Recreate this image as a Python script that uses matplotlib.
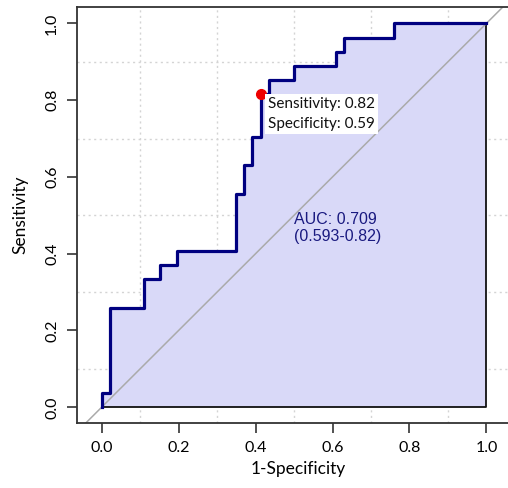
import numpy as np
import matplotlib.pyplot as plt

# ROC 曲线的拐点 (1-特异度, 灵敏度)
fpr = [0.0, 0.0, 0.022, 0.109, 0.152, 0.196, 0.348, 0.370, 0.391, 0.413,
       0.435, 0.500, 0.609, 0.630, 0.761, 1.0]
tpr = [0.0, 0.037, 0.259, 0.333, 0.370, 0.407, 0.556, 0.630, 0.704, 0.815,
       0.852, 0.889, 0.926, 0.963, 1.0, 1.0]
best_fpr, best_tpr = 0.413, 0.815
best_label = 'Sensitivity: 0.82\nSpecificity: 0.59'
auc_label = 'AUC: 0.709\n(0.593-0.82)'
ticks = [0.0, 0.2, 0.4, 0.6, 0.8, 1.0]
tick_labels = ['0.0', '0.2', '0.4', '0.6', '0.8', '1.0']

fig = plt.figure(figsize=(5.08, 4.88), dpi=100)
ax = fig.add_axes([0.152, 0.1332, 0.87, 0.852])
ax.set_xlim(-0.0634, 1.085)
ax.set_ylim(-0.041, 1.042)

# 网格
grid = np.arange(0, 1.01, 0.1)
ax.set_xticks(grid, minor=True)
ax.set_yticks(grid, minor=True)
ax.tick_params(which='minor', length=0)
ax.grid(which='minor', color='#d4d4d4', linestyle=(0, (1.5, 2.5)), linewidth=1.0)
ax.set_axisbelow(True)

# 填充区域 + 曲线
ax.fill_between(fpr, tpr, 0, step='post', facecolor='#d9d9f8', zorder=1)
ax.plot([0, 1, 1], [0, 0, 1], color='#111111', lw=1.3, zorder=2)
ax.plot([-0.2, 1.2], [-0.2, 1.2], color='#aaaaaa', lw=1.1, zorder=2)
ax.plot(fpr, tpr, drawstyle='steps-post', color='#000080', lw=2.3, zorder=3)
ax.plot(best_fpr, best_tpr, 'o', color='#ee0000', markersize=7, zorder=4)

ax.text(0.432, 0.808, best_label, family='Lato', fontsize=11, va='top', ha='left',
        linespacing=1.55, color='#111111', zorder=5,
        bbox=dict(boxstyle='square,pad=0.2', facecolor='white', edgecolor='none'))
ax.text(0.5, 0.509, auc_label, family='Liberation Sans', fontsize=11.5, va='top',
        ha='left', linespacing=1.15, color='#1a1a80', zorder=5)

ax.set_xticks(ticks)
ax.set_xticklabels(tick_labels, family='Lato', fontsize=11.5)
ax.set_yticks(ticks)
ax.set_yticklabels(tick_labels, family='Lato', fontsize=11.5, rotation=90, va='center')
ax.tick_params(which='major', length=7, width=1.2, color='#333333', pad=6)
for s in ax.spines.values():
    s.set_color('#333333')
    s.set_linewidth(1.3)

ax.set_xlabel('1-Specificity', family='Lato', fontsize=12.5, labelpad=4)
ax.set_ylabel('Sensitivity', family='Lato', fontsize=12.5, labelpad=12)

fig.savefig('out.png', dpi=100)
